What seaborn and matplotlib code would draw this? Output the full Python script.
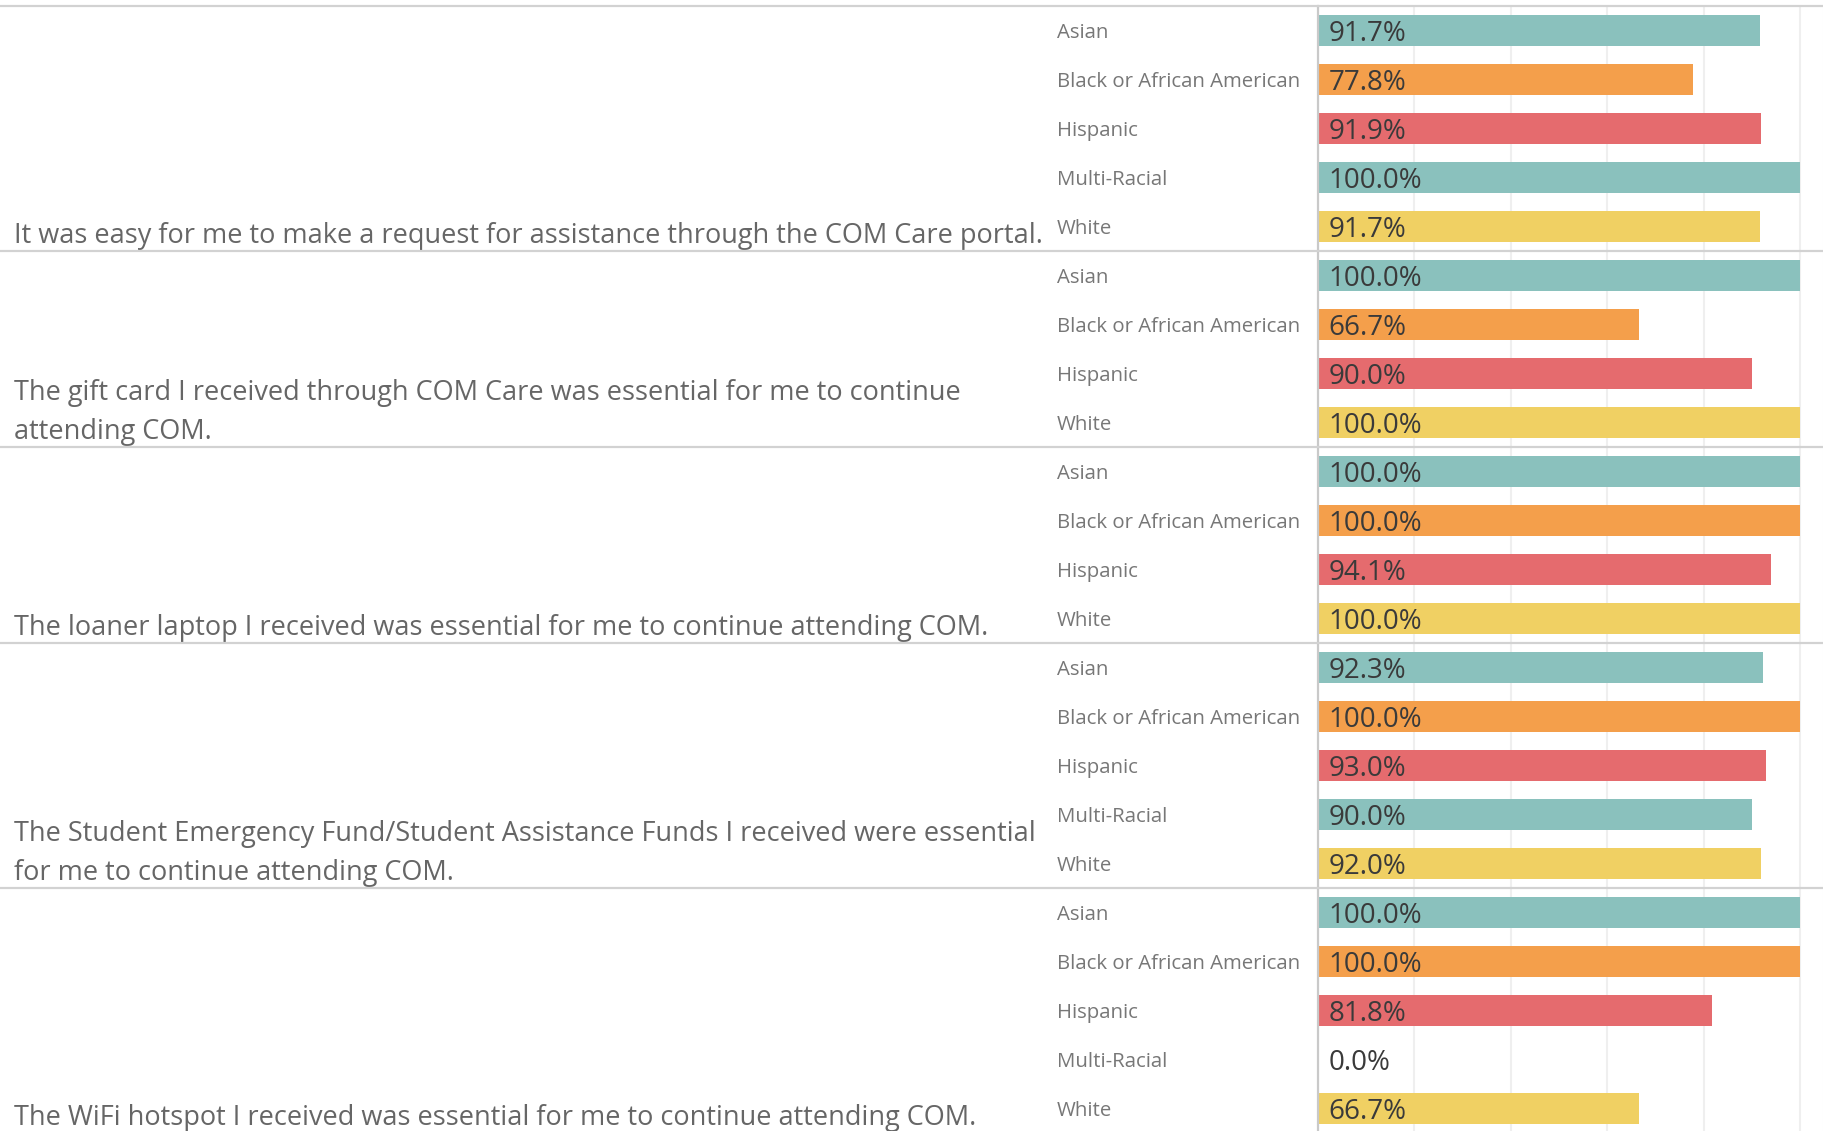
import numpy as np
import pandas as pd
import seaborn as sns
import matplotlib.pyplot as plt
from matplotlib.transforms import blended_transform_factory
from matplotlib.lines import Line2D

# ---- data ----
questions = [
    "It was easy for me to make a request for assistance through the COM Care portal.",
    "The gift card I received through COM Care was essential for me to continue\nattending COM.",
    "The loaner laptop I received was essential for me to continue attending COM.",
    "The Student Emergency Fund/Student Assistance Funds I received were essential\nfor me to continue attending COM.",
    "The WiFi hotspot I received was essential for me to continue attending COM.",
]
q1_races = ["Asian", "Black or African American", "Hispanic", "Multi-Racial", "White"]
q1_values = [91.7, 77.8, 91.9, 100.0, 91.7]
q2_races = ["Asian", "Black or African American", "Hispanic", "White"]
q2_values = [100.0, 66.7, 90.0, 100.0]
q3_races = ["Asian", "Black or African American", "Hispanic", "White"]
q3_values = [100.0, 100.0, 94.1, 100.0]
q4_races = ["Asian", "Black or African American", "Hispanic", "Multi-Racial", "White"]
q4_values = [92.3, 100.0, 93.0, 90.0, 92.0]
q5_races = ["Asian", "Black or African American", "Hispanic", "Multi-Racial", "White"]
q5_values = [100.0, 100.0, 81.8, 0.0, 66.7]

race_colors = {
    "Asian": "#8AC1BD",
    "Black or African American": "#F49F4B",
    "Hispanic": "#E56B6E",
    "Multi-Racial": "#8AC1BD",
    "White": "#F0D063",
}

all_races = [q1_races, q2_races, q3_races, q4_races, q5_races]
all_values = [q1_values, q2_values, q3_values, q4_values, q5_values]

rows = []
for qi, (rs, vs) in enumerate(zip(all_races, all_values)):
    for r, v in zip(rs, vs):
        rows.append({"question": qi, "race": r, "value": v,
                     "row": f"{qi}-{r}"})
df = pd.DataFrame(rows)
row_order = list(df["row"])

# ---- figure ----
W, H = 1824, 1131
fig = plt.figure(figsize=(W / 100, H / 100), dpi=100)
font = ["Open Sans", "DejaVu Sans"]
plt.rcParams["font.family"] = font

row_px = 49
top_px = 6
n_rows = len(df)
ax_left = 1318 / W
ax_w = (W - 1318) / W
ax_top = 1 - top_px / H
ax_h = n_rows * row_px / H
ax = fig.add_axes([ax_left, ax_top - ax_h, ax_w, ax_h])

sns.barplot(data=df, x="value", y="row", hue="race", order=row_order,
            palette=race_colors, dodge=False, width=0.63, orient="h",
            legend=False, ax=ax, saturation=1, errorbar=None)

ax.set_xlim(0, 105)
ax.set_ylim(n_rows - 0.5, -0.5)
ax.set_xticks([0, 20, 40, 60, 80, 100])
ax.set_xticklabels([])
ax.set_yticks([])
ax.tick_params(length=0)
ax.set_xlabel("")
ax.set_ylabel("")
ax.grid(axis="x", color="#efefef", lw=1.5)
ax.set_axisbelow(True)
for s in ["top", "bottom"]:
    ax.spines[s].set_visible(False)
ax.spines["left"].set_color("#c9c9c9")
ax.spines["left"].set_linewidth(1.6)
ax.spines["right"].set_color("#ececec")
ax.spines["right"].set_linewidth(1.5)

# value labels
for i, v in enumerate(df["value"]):
    ax.text(2.2, i + 0.08, f"{v:.1f}%", va="center", ha="left",
            fontsize=20, color="#3a3a3a")

trans = blended_transform_factory(fig.transFigure, ax.transData)

# race labels
for i, r in enumerate(df["race"]):
    ax.text(1057 / W, i + 0.05, r, transform=trans, va="center", ha="left",
            fontsize=14.7, color="#777777", clip_on=False)

# separators and question labels
counts = [len(r) for r in all_races]
bounds = np.cumsum([0] + counts) - 0.5
for b in bounds[:-1]:
    fig.add_artist(Line2D([0, 1], [b, b], transform=trans,
                          color="#d2d2d2", lw=1.6))
for qi, q in enumerate(questions):
    ax.text(14 / W, bounds[qi + 1] - 0.025, q, transform=trans,
            va="bottom", ha="left", fontsize=19.5, color="#666666",
            linespacing=1.5, clip_on=False)

fig.savefig("out.png", dpi=100)
